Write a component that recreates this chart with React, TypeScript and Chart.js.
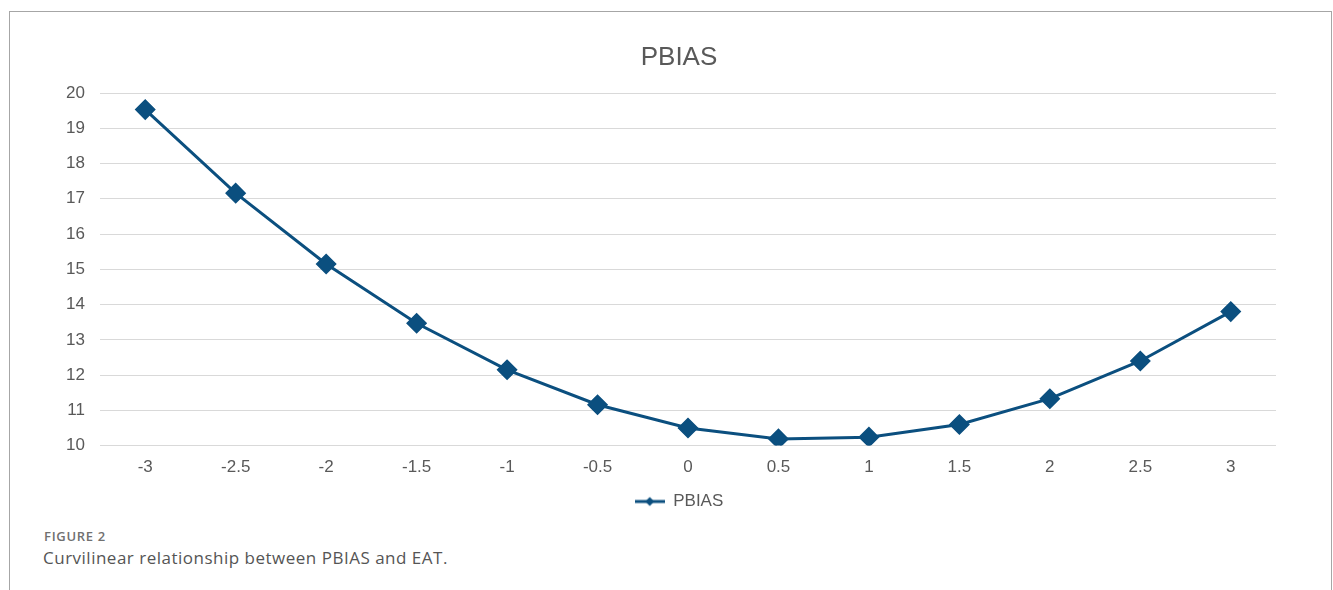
import React, { useEffect, useRef } from "react";
import { Chart, registerables } from "chart.js";

Chart.register(...registerables);

const categories = ["-3", "-2.5", "-2", "-1.5", "-1", "-0.5", "0", "0.5", "1", "1.5", "2", "2.5", "3"];
const pbiasValues = [19.53, 17.16, 15.15, 13.47, 12.15, 11.16, 10.5, 10.19, 10.24, 10.6, 11.33, 12.4, 13.8];
const yTicks = [10, 11, 12, 13, 14, 15, 16, 17, 18, 19, 20];

const seriesName = "PBIAS";
const chartTitle = "PBIAS";
const figureLabel = "FIGURE 2";
const captionText = "Curvilinear relationship between PBIAS and EAT.";

const LINE_COLOR = "#0b4f7f";
const TEXT_COLOR = "#595959";
const FONT = "'Liberation Sans', Arial, sans-serif";

function makeLegendIcon(): HTMLCanvasElement {
  const c = document.createElement("canvas");
  c.width = 30;
  c.height = 12;
  const ctx = c.getContext("2d")!;
  ctx.strokeStyle = LINE_COLOR;
  ctx.lineWidth = 3;
  ctx.beginPath();
  ctx.moveTo(0, 6);
  ctx.lineTo(30, 6);
  ctx.stroke();
  ctx.fillStyle = LINE_COLOR;
  ctx.beginPath();
  ctx.moveTo(15, 1.5);
  ctx.lineTo(19.5, 6);
  ctx.lineTo(15, 10.5);
  ctx.lineTo(10.5, 6);
  ctx.closePath();
  ctx.fill();
  return c;
}

export default function App() {
  const canvasRef = useRef<HTMLCanvasElement | null>(null);

  useEffect(() => {
    if (!canvasRef.current) return;
    const icon = makeLegendIcon();
    const chart = new Chart(canvasRef.current, {
      type: "line",
      data: {
        labels: categories,
        datasets: [
          {
            label: seriesName,
            data: pbiasValues,
            borderColor: LINE_COLOR,
            backgroundColor: LINE_COLOR,
            borderWidth: 3,
            pointStyle: "rectRot",
            pointRadius: 9.5,
            pointBorderWidth: 1.5,
            pointBackgroundColor: LINE_COLOR,
            pointBorderColor: LINE_COLOR,
            tension: 0,
            fill: false,
          },
        ],
      },
      options: {
        animation: false,
        responsive: false,
        maintainAspectRatio: false,
        layout: { padding: { left: 0, right: 0, top: 0, bottom: 6 } },
        plugins: {
          title: {
            display: true,
            text: chartTitle,
            color: TEXT_COLOR,
            font: { family: FONT, size: 26, weight: "normal" },
            padding: { top: 31.4, bottom: 19.4 },
          },
          legend: {
            display: true,
            position: "bottom",
            labels: {
              color: TEXT_COLOR,
              font: { family: FONT, size: 17 },
              usePointStyle: true,
              pointStyleWidth: 30,
              boxHeight: 12,
              padding: 3,
              generateLabels: () => [
                {
                  text: seriesName,
                  fillStyle: LINE_COLOR,
                  strokeStyle: LINE_COLOR,
                  lineWidth: 0,
                  pointStyle: icon as any,
                  hidden: false,
                  datasetIndex: 0,
                  fontColor: TEXT_COLOR,
                },
              ],
            },
          },
          tooltip: { enabled: false },
        },
        scales: {
          x: {
            type: "category",
            offset: true,
            grid: { display: false, drawTicks: false },
            border: { display: false },
            ticks: {
              color: TEXT_COLOR,
              font: { family: FONT, size: 17 },
              padding: 12,
              maxRotation: 0,
              autoSkip: false,
            },
          },
          y: {
            min: 10,
            max: 20,
            afterBuildTicks: (scale: any) => {
              scale.ticks = yTicks.map((v) => ({ value: v }));
            },
            afterFit: (scale: any) => {
              scale.width = 75;
            },
            grid: { color: "#d9d9d9", lineWidth: 1, drawTicks: false },
            border: { display: false },
            ticks: {
              color: TEXT_COLOR,
              font: { family: FONT, size: 17 },
              padding: 15,
              stepSize: 1,
            },
          },
          yRight: {
            position: "right",
            display: true,
            min: 10,
            max: 20,
            grid: { display: false, drawTicks: false },
            border: { display: false },
            ticks: { display: false },
            afterFit: (scale: any) => {
              scale.width = 57;
            },
          },
        },
      },
    });
    return () => chart.destroy();
  }, []);

  return (
    <div
      style={{
        position: "fixed",
        left: 0,
        top: 0,
        width: 1333,
        height: 590,
        overflow: "hidden",
        background: "#ffffff",
      }}
    >
      <div
        style={{
          position: "absolute",
          left: 9,
          top: 11,
          width: 1323,
          height: 700,
          border: "1px solid #a6a6a6",
          boxSizing: "border-box",
        }}
      />
      <canvas
        ref={canvasRef}
        width={1308}
        height={515}
        style={{ position: "absolute", left: 25, top: 11, width: 1308, height: 515 }}
      />
      <div
        style={{
          position: "absolute",
          left: 44,
          top: 527,
          fontFamily: "'Open Sans', sans-serif",
          fontWeight: 600,
          fontSize: 13,
          letterSpacing: 0.7,
          color: "#707070",
          whiteSpace: "nowrap",
        }}
      >
        {figureLabel}
      </div>
      <div
        style={{
          position: "absolute",
          left: 43,
          top: 546,
          fontFamily: "'Open Sans', sans-serif",
          fontSize: 17,
          letterSpacing: 0.5,
          color: "#555555",
          whiteSpace: "nowrap",
        }}
      >
        {captionText}
      </div>
    </div>
  );
}
